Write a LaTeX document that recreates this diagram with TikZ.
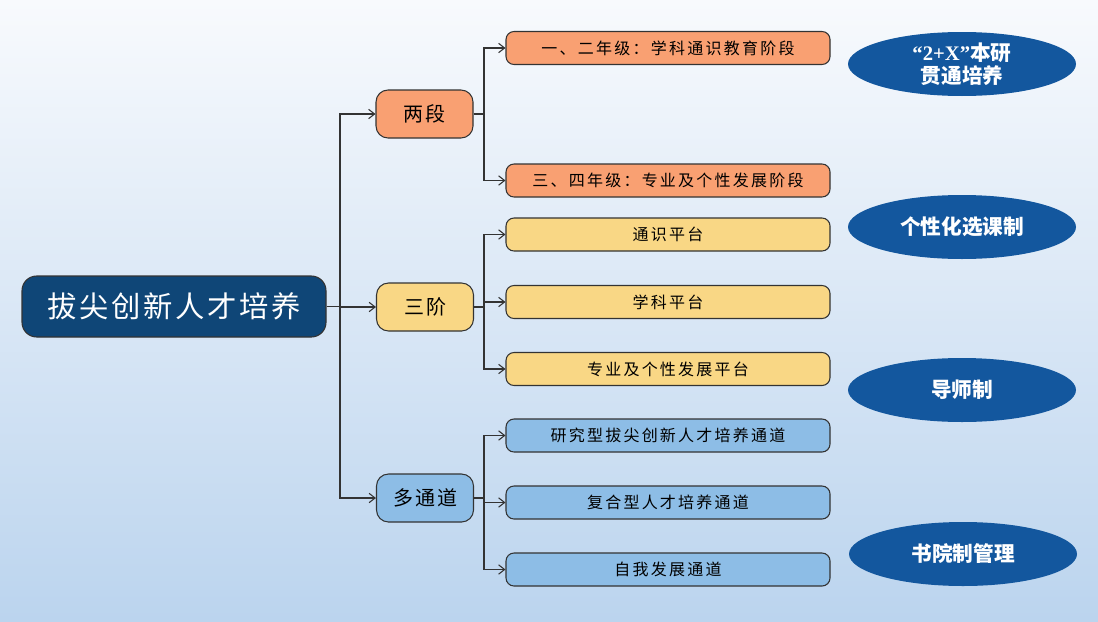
\documentclass[tikz,border=0pt]{standalone}
\usepackage{fontspec}
\usetikzlibrary{arrows.meta,shapes.geometric}
\newfontfamily\cjkroot{Noto Sans CJK SC}[LetterSpace=9]
\newfontfamily\cjkmid{Noto Sans CJK SC}[LetterSpace=10]
\newfontfamily\cjkleaf{Noto Sans CJK SC}[LetterSpace=14]
\newfontfamily\cjkbold{Noto Sans CJK SC}
\newfontfamily\tnr{Liberation Serif}
\definecolor{rootblue}{HTML}{0F4677}
\definecolor{salmon}{HTML}{F9A072}
\definecolor{gold}{HTML}{F9D785}
\definecolor{lblue}{HTML}{8DBDE6}
\definecolor{ellblue}{HTML}{13579E}
\definecolor{bgtop}{HTML}{F8FAFD}
\definecolor{bgbot}{HTML}{BBD4EE}
\definecolor{linecol}{HTML}{333333}
\tikzset{
  rootbox/.style={draw=linecol, line width=0.8pt, fill=rootblue, rounded corners=11pt,
    minimum width=228pt, minimum height=45.75pt, inner sep=0pt, text=white,
    font=\cjkroot\fontsize{22pt}{26pt}\selectfont},
  midbox/.style={draw=linecol, line width=0.8pt, rounded corners=9pt,
    minimum width=72.75pt, minimum height=36pt, inner sep=0pt,
    font=\cjkmid\fontsize{15pt}{18pt}\selectfont},
  leafbox/.style={draw=linecol, line width=0.8pt, rounded corners=6pt,
    minimum width=243pt, minimum height=24.75pt, inner sep=0pt,
    font=\cjkleaf\fontsize{12pt}{14pt}\selectfont},
  ellbox/.style={ellipse, fill=ellblue, minimum width=171pt, minimum height=48pt,
    inner sep=0pt, text=white, align=center,
    font=\cjkbold\bfseries\fontsize{15.5pt}{17pt}\selectfont},
  conn/.style={draw=linecol, line width=0.8pt},
  arr/.style={conn, -{Straight Barb[length=4.5pt,width=7pt]}},
}
\begin{document}
\begin{tikzpicture}[x=0.75pt,y=-0.75pt]
\shade[top color=bgtop, bottom color=bgbot] (0,0) rectangle (1098,621);
\useasboundingbox (0,0) rectangle (1098,621);

% root
\node[rootbox] (root) at (174,306.5) {拔尖创新人才培养};

% level 1
\node[midbox, fill=salmon] (ld) at (424.5,114) {两段};
\node[midbox, fill=gold] (sj) at (425,307) {三阶};
\node[midbox, fill=lblue] (dt) at (425,498) {多通道};

% leaves
\node[leafbox, fill=salmon] (a1) at (668,48) {一、二年级：学科通识教育阶段};
\node[leafbox, fill=salmon] (a2) at (668,180.5) {三、四年级：专业及个性发展阶段};
\node[leafbox, fill=gold] (b1) at (668,234.5) {通识平台};
\node[leafbox, fill=gold] (b2) at (668,302) {学科平台};
\node[leafbox, fill=gold] (b3) at (668,369) {专业及个性发展平台};
\node[leafbox, fill=lblue] (c1) at (668,435.5) {研究型拔尖创新人才培养通道};
\node[leafbox, fill=lblue] (c2) at (668,502.5) {复合型人才培养通道};
\node[leafbox, fill=lblue] (c3) at (668,569.5) {自我发展通道};

% ellipses
\node[ellbox] (e1) at (962,64) {{\tnr\bfseries “2+X”}本研\\贯通培养};
\node[ellbox] (e2) at (962,227) {个性化选课制};
\node[ellbox] (e3) at (962,390) {导师制};
\node[ellbox] (e4) at (963,554) {书院制管理};

% connectors
\coordinate (j0) at (340,306.5);
\draw[conn] (root.east) -- (j0);
\draw[arr] (j0) |- (ld.west);
\draw[arr] (j0) |- (sj.west);
\draw[arr] (j0) |- (dt.west);

\coordinate (j1) at (484,114);
\draw[conn] (ld.east) -- (j1);
\draw[arr] (j1) |- (a1.west);
\draw[arr] (j1) |- (a2.west);

\coordinate (j2) at (484,307);
\draw[conn] (sj.east) -- (j2);
\draw[arr] (j2) |- (b1.west);
\draw[arr] (j2) |- (b2.west);
\draw[arr] (j2) |- (b3.west);

\coordinate (j3) at (484,498);
\draw[conn] (dt.east) -- (j3);
\draw[arr] (j3) |- (c1.west);
\draw[arr] (j3) |- (c2.west);
\draw[arr] (j3) |- (c3.west);
\end{tikzpicture}
\end{document}
